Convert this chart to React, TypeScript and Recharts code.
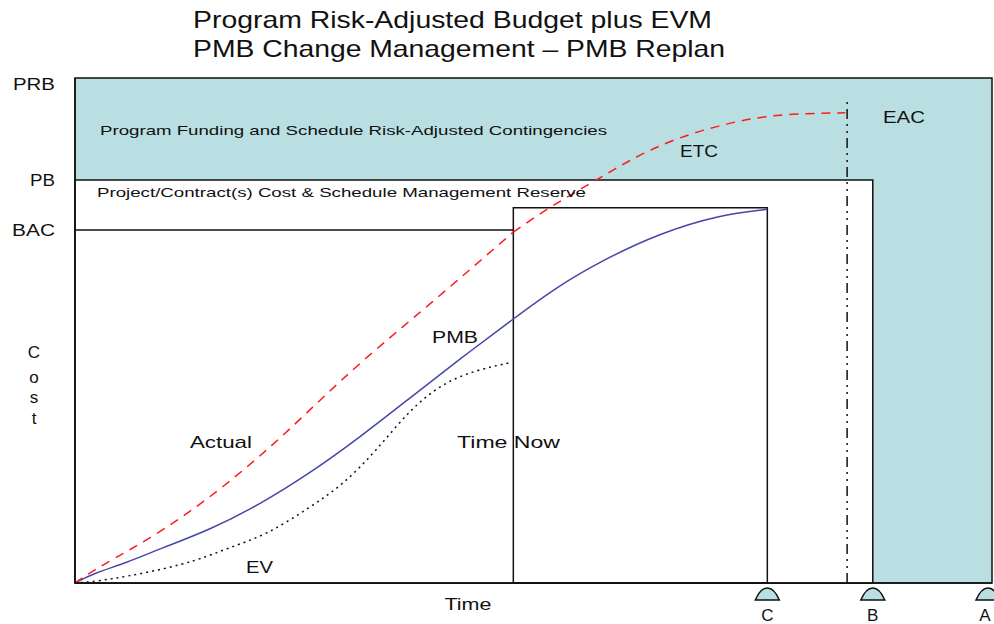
import React from 'react';
import {
  ComposedChart, Line, XAxis, YAxis, ReferenceArea, ReferenceLine, ReferenceDot,
} from 'recharts';

// ---- data (time 0..100, cost 0..100 where PRB = 100) ----
const pmbTime = [0, 2.0, 5.6, 9.3, 14.7, 20.2, 25.6, 31.1, 36.5, 42.0, 47.8, 52.5, 57.6, 63.8, 70.3, 75.5];
const pmbCost = [0, 1.9, 4.0, 6.8, 10.5, 15.6, 21.7, 28.9, 36.6, 44.4, 52.3, 58.6, 64.0, 69.3, 72.9, 74.0];

const actualTime = [0, 2.4, 9.3, 15.8, 21.6, 26.7, 31.8, 38.4, 47.8];
const actualCost = [0, 3.0, 9.9, 18.4, 27.3, 36.2, 44.8, 54.7, 69.5];

const etcTime = [47.8, 51.8, 56.5, 60.5, 65.2, 71.1, 76.6, 84.0];
const etcCost = [69.5, 74.5, 79.4, 83.8, 87.9, 91.1, 92.9, 93.1];

const evTime = [0, 3.1, 12.2, 16.6, 20.9, 25.6, 29.2, 32.9, 36.5, 40.1, 43.8, 47.4];
const evCost = [0, 0.4, 3.6, 6.9, 9.5, 15.0, 19.4, 26.3, 34.3, 39.6, 42.2, 43.6];

// budget levels and milestone dates
const PRB = 100;
const PB = 79.8;
const BAC = 69.9;
const BAC_REPLAN = 74.3;
const EAC_LINE_TOP = 95.6;
const TIME_NOW = 47.8;
const DATE_C = 75.5;
const DATE_EAC = 84.2;
const DATE_B = 87.0;
const DATE_A = 100;

const yTicks = [BAC, PB, PRB];
const yTickLabels = ['BAC', 'PB', 'PRB'];

const xTicks = [42.8, DATE_C, DATE_B, DATE_A];
const xTickLabels = ['Time', 'C', 'B', 'A'];

const annotations = [
  { text: 'Program Funding and Schedule Risk-Adjusted Contingencies', t: 2.73, c: 88.7, len: 507, fs: 13 },
  { text: 'Project/Contract(s) Cost & Schedule Management Reserve', t: 2.4, c: 76.4, len: 489, fs: 13 },
  { text: 'ETC', t: 65.98, c: 84.36, len: 38, fs: 17 },
  { text: 'EAC', t: 88.11, c: 91.09, len: 42, fs: 17 },
  { text: 'PMB', t: 38.93, c: 47.52, len: 46, fs: 17 },
  { text: 'Actual', t: 12.54, c: 26.73, len: 62, fs: 17 },
  { text: 'Time Now', t: 41.66, c: 26.73, len: 103, fs: 17 },
  { text: 'EV', t: 18.65, c: 1.98, len: 27, fs: 17 },
];

const zip = (ts: number[], cs: number[]) => ts.map((t, i) => ({ t, v: cs[i] }));
const pmbData = zip(pmbTime, pmbCost);
const actualData = zip(actualTime, actualCost);
const etcData = zip(etcTime, etcCost);
const evData = zip(evTime, evCost);

const TEAL = '#b9dfe3';
const FONT = '"Liberation Sans", Arial, sans-serif';

const yTickLen: Record<string, number> = { BAC: 43, PB: 25, PRB: 42 };

const YTick = (props: any) => {
  const { x, y, payload } = props;
  const i = yTicks.indexOf(payload.value);
  const label = yTickLabels[i] ?? '';
  const dy = label === 'PRB' ? 12 : 6;
  return (
    <text
      x={x - 20}
      y={y + dy}
      textAnchor="end"
      fontSize={17}
      fontFamily={FONT}
      fill="#111"
      textLength={yTickLen[label]}
      lengthAdjust="spacingAndGlyphs"
    >
      {label}
    </text>
  );
};

const XTick = (props: any) => {
  const { x, y, payload } = props;
  const i = xTicks.indexOf(payload.value);
  const label = xTickLabels[i] ?? '';
  if (label === 'Time') {
    return (
      <text x={x - 23} y={y + 27} fontSize={17} fontFamily={FONT} fill="#111" textLength={47} lengthAdjust="spacingAndGlyphs">
        {label}
      </text>
    );
  }
  const cx = label === 'A' ? x - 4 : x;
  return (
    <g>
      <path
        d={`M${cx - 12},${y + 17} C${cx - 9},${y + 10} ${cx - 5},${y + 5} ${cx},${y + 5} C${cx + 5},${y + 5} ${cx + 9},${y + 10} ${cx + 12},${y + 17} Z`}
        fill={TEAL}
        stroke="#111"
        strokeWidth={1.5}
      />
      <text x={label === 'A' ? x - 7 : x} y={y + 38} textAnchor="middle" fontSize={17} fontFamily={FONT} fill="#111">
        {label}
      </text>
    </g>
  );
};

const CostLabel = (props: any) => {
  const vb = props.viewBox || { x: 0, y: 78 };
  const x = vb.x + 34;
  const y0 = vb.y;
  const letters = ['C', 'o', 's', 't'];
  const ys = [280, 305, 325, 346];
  return (
    <g>
      {letters.map((l, i) => (
        <text key={i} x={x} y={y0 + ys[i]} textAnchor="middle" fontSize={17} fontFamily={FONT} fill="#111">
          {l}
        </text>
      ))}
    </g>
  );
};

const makeTextShape = (a: typeof annotations[number]) => (p: any) => (
  <text
    x={p.cx}
    y={p.cy}
    fontSize={a.fs}
    fontFamily={FONT}
    fill="#111"
    textLength={a.len}
    lengthAdjust="spacingAndGlyphs"
  >
    {a.text}
  </text>
);

export default function App() {
  return (
    <div style={{ position: 'absolute', left: 0, top: 0, width: 994, height: 624, background: '#fff' }}>
      <svg width={994} height={70} style={{ position: 'absolute', left: 0, top: 0 }}>
        <text x={193} y={28} fontSize={24} fontFamily={FONT} fill="#111" textLength={519} lengthAdjust="spacingAndGlyphs">
          Program Risk-Adjusted Budget plus EVM
        </text>
        <text x={193} y={57} fontSize={24} fontFamily={FONT} fill="#111" textLength={532} lengthAdjust="spacingAndGlyphs">
          PMB Change Management – PMB Replan
        </text>
      </svg>
      <div style={{ position: 'absolute', left: 0, top: 0 }}>
        <ComposedChart width={994} height={624} margin={{ top: 78, right: 2, bottom: 0, left: 0 }}>
          <XAxis
            type="number"
            dataKey="t"
            domain={[0, 100]}
            ticks={xTicks}
            tick={<XTick />}
            tickLine={false}
            tickSize={0}
            tickMargin={0}
            height={41}
            axisLine={{ stroke: '#111', strokeWidth: 1.5 }}
            allowDataOverflow
            interval={0}
          />
          <YAxis
            type="number"
            domain={[0, 100]}
            ticks={yTicks}
            tick={<YTick />}
            tickLine={false}
            tickSize={0}
            tickMargin={0}
            width={75}
            axisLine={{ stroke: '#111', strokeWidth: 1.5 }}
            allowDataOverflow
            interval={0}
            label={<CostLabel />}
          />
          <ReferenceArea x1={0} x2={DATE_A} y1={0} y2={PRB} fill={TEAL} fillOpacity={1} stroke="#111" strokeWidth={1.5} />
          <ReferenceArea x1={0} x2={DATE_B} y1={0} y2={PB} fill="#fff" fillOpacity={1} stroke="#111" strokeWidth={1.5} />
          <ReferenceLine segment={[{ x: 0, y: BAC }, { x: TIME_NOW, y: BAC }]} stroke="#111" strokeWidth={1.5} />
          <ReferenceArea x1={TIME_NOW} x2={DATE_C} y1={0} y2={BAC_REPLAN} fill="none" stroke="#111" strokeWidth={1.5} />
          <ReferenceLine
            segment={[{ x: DATE_EAC, y: 0 }, { x: DATE_EAC, y: EAC_LINE_TOP }]}
            stroke="#111"
            strokeWidth={1.5}
            strokeDasharray="10 5 2 5 2 5"
          />
          <Line data={evData} dataKey="v" type="basis" stroke="#111" strokeWidth={1.5} strokeDasharray="2 4" dot={false} isAnimationActive={false} />
          <Line data={pmbData} dataKey="v" type="basis" stroke="#4646a8" strokeWidth={1.5} dot={false} isAnimationActive={false} />
          <Line data={actualData} dataKey="v" type="basis" stroke="#ff1a1a" strokeWidth={1.5} strokeDasharray="9 7" dot={false} isAnimationActive={false} />
          <Line data={etcData} dataKey="v" type="basis" stroke="#ff1a1a" strokeWidth={1.5} strokeDasharray="9 7" dot={false} isAnimationActive={false} />
          {annotations.map((a, i) => (
            <ReferenceDot key={i} x={a.t} y={a.c} r={0} ifOverflow="visible" shape={makeTextShape(a)} />
          ))}
        </ComposedChart>
      </div>
    </div>
  );
}
